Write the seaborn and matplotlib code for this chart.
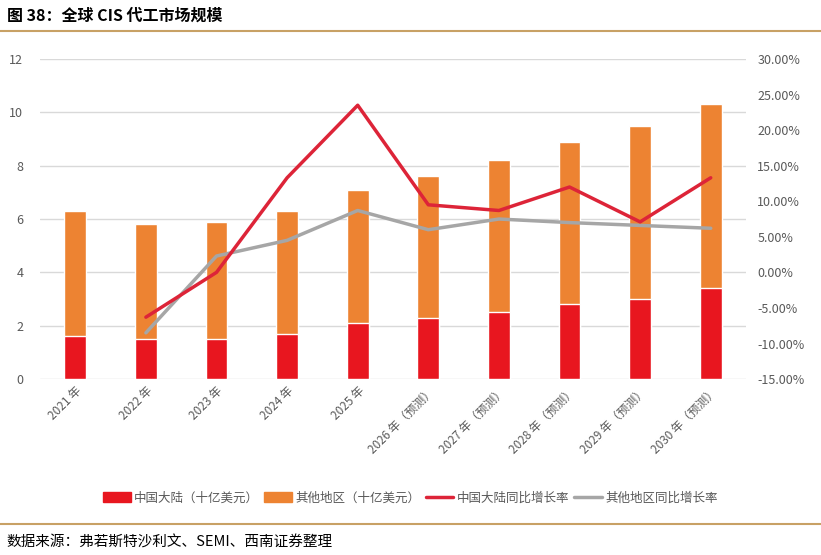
import matplotlib
matplotlib.use('Agg')
import matplotlib.pyplot as plt
from matplotlib.patches import Patch
from matplotlib.lines import Line2D
from matplotlib.ticker import FuncFormatter
import numpy as np
import pandas as pd
import seaborn as sns

years = ['2021 年', '2022 年', '2023 年', '2024 年', '2025 年',
         '2026 年（预测）', '2027 年（预测）', '2028 年（预测）', '2029 年（预测）', '2030 年（预测）']
china = [1.6, 1.5, 1.5, 1.7, 2.1, 2.3, 2.5, 2.8, 3.0, 3.4]
others = [4.7, 4.3, 4.4, 4.6, 5.0, 5.3, 5.7, 6.1, 6.5, 6.9]
china_yoy = [None, -6.3, 0.0, 13.3, 23.5, 9.5, 8.7, 12.0, 7.1, 13.3]
others_yoy = [None, -8.5, 2.3, 4.5, 8.7, 6.0, 7.5, 7.0, 6.6, 6.2]

RED = '#E8161F'
ORANGE = '#ED8332'
LINE_RED = '#DD2438'
GRAY = '#A6A6A6'
TXT = '#595959'

sns.set_style('white')
plt.rcParams['font.family'] = ['Noto Sans CJK SC', 'DejaVu Sans']

df = pd.DataFrame({'year': years, 'china': china, 'others': others})
df['total'] = df['china'] + df['others']
df['pos'] = np.arange(len(years))

fig = plt.figure(figsize=(8.21, 5.55), dpi=100)
ax = fig.add_axes([0.0487, 0.317, 0.86, 0.5767])

# stacked bars: total in orange, china drawn over it in red
sns.barplot(data=df, x='year', y='total', color=ORANGE, width=0.31, saturation=1, ax=ax)
sns.barplot(data=df, x='year', y='china', color=RED, width=0.31, saturation=1, ax=ax)
ax.set_ylim(0, 12)
ax.set_yticks(range(0, 13, 2))
ax.set_xlim(-0.5, len(years) - 0.5)
ax.set_xlabel('')
ax.set_ylabel('')
ax.yaxis.grid(True, color='#D9D9D9', lw=1)
ax.set_axisbelow(True)
for s in ax.spines.values():
    s.set_visible(False)
ax.tick_params(axis='y', colors=TXT, labelsize=9, length=0, pad=12)
ax.tick_params(axis='x', colors=TXT, labelsize=8.5, length=0, pad=4)
for lab in ax.get_xticklabels():
    lab.set_rotation(45)
    lab.set_ha('right')
    lab.set_rotation_mode('anchor')

ax2 = ax.twinx()
g = pd.DataFrame({'pos': df['pos'], 'cn': china_yoy, 'ot': others_yoy}).dropna()
sns.lineplot(x=g['pos'], y=g['ot'], color=GRAY, lw=2.5, ax=ax2)
sns.lineplot(x=g['pos'], y=g['cn'], color=LINE_RED, lw=2.5, ax=ax2)
ax2.set_ylim(-15, 30)
ax2.set_yticks(range(-15, 31, 5))
ax2.yaxis.set_major_formatter(FuncFormatter(lambda v, p: f'{v:.2f}%'))
ax2.set_xlabel('')
ax2.set_ylabel('')
for s in ax2.spines.values():
    s.set_visible(False)
ax2.tick_params(axis='y', colors=TXT, labelsize=9, length=0, pad=8)
ax2.set_xlim(-0.5, len(years) - 0.5)

handles = [Patch(color=RED), Patch(color=ORANGE),
           Line2D([], [], color=LINE_RED, lw=2.5), Line2D([], [], color=GRAY, lw=2.5)]
labels = ['中国大陆（十亿美元）', '其他地区（十亿美元）', '中国大陆同比增长率', '其他地区同比增长率']
leg = fig.legend(handles, labels, loc='center', bbox_to_anchor=(0.5, 0.103), ncol=4,
                 frameon=False, fontsize=9, handlelength=2.2, handleheight=0.9,
                 handletextpad=0.3, columnspacing=0.4)
for t in leg.get_texts():
    t.set_color(TXT)

fig.text(0.008, 0.972, '图 38：全球 CIS 代工市场规模', fontsize=11.5, fontweight='bold',
         va='center', ha='left', color='black')
fig.add_artist(Line2D([0, 1], [0.944, 0.944], color='#C8A165', lw=1.5))
fig.add_artist(Line2D([0, 1], [0.056, 0.056], color='#C8A165', lw=1.5))
fig.text(0.008, 0.022, '数据来源：弗若斯特沙利文、SEMI、西南证券整理', fontsize=10.5,
         style='italic', va='center', ha='left', color='black')

fig.savefig('out.png', dpi=100)
